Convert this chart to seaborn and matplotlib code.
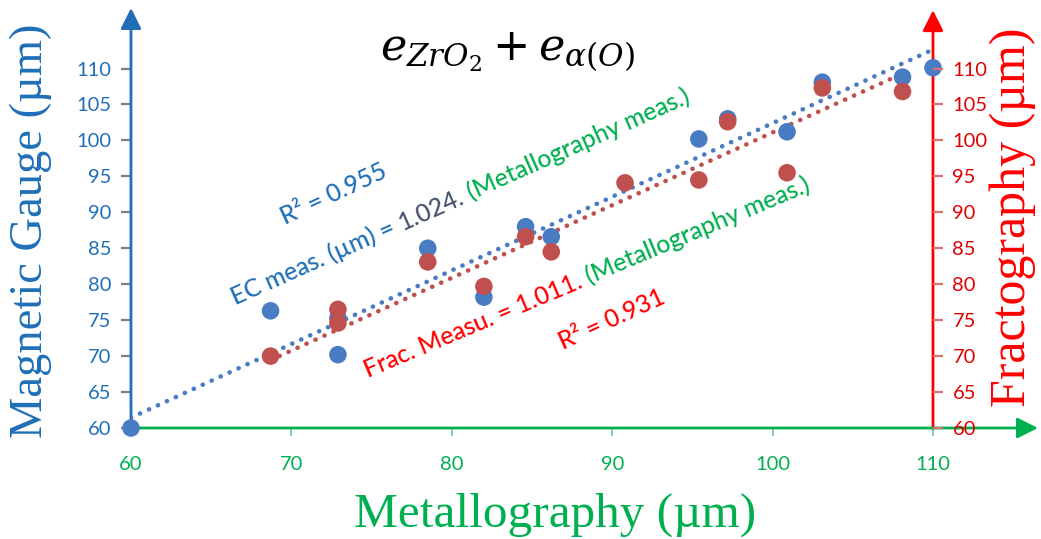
import matplotlib
matplotlib.use("Agg")
import matplotlib.pyplot as plt
import seaborn as sns
import numpy as np
import pandas as pd

# ---------------- data ----------------
metallo_ec = [60.0, 68.7, 72.9, 72.9, 78.5, 82.0, 84.6, 86.2, 95.4, 97.2, 100.9, 103.1, 108.1, 110.0]
ec_vals = [60.0, 76.3, 70.2, 75.3, 85.0, 78.2, 88.0, 86.6, 100.2, 103.0, 101.2, 108.1, 108.8, 110.1]
metallo_frac = [68.7, 72.9, 72.9, 78.5, 82.0, 84.6, 86.2, 90.8, 95.4, 97.2, 100.9, 103.1, 108.1]
frac_vals = [70.0, 76.5, 74.6, 83.1, 79.7, 86.6, 84.5, 94.1, 94.5, 102.6, 95.5, 107.3, 106.8]
slopes = [1.024, 1.011]
r2_vals = [0.955, 0.931]
y_ticks = list(range(60, 111, 5))
x_ticks = list(range(60, 111, 10))

# ---------------- style ----------------
sns.set_theme(style="white")
plt.rcParams["font.family"] = ["Lato", "DejaVu Sans"]
plt.rcParams["mathtext.fontset"] = "dejavuserif"

BLUE_PT = "#4A7CC4"
RED_PT = "#C0504D"
BLUE_AX = "#1F6FB8"
RED_AX = "#FF0000"
GREEN = "#00B050"
DARK = "#44546A"
SERIF = ["Liberation Serif", "DejaVu Serif"]

W, H = 1041, 539
fig = plt.figure(figsize=(W / 100, H / 100), dpi=100)
x0_px, x1_px = 131, 1038
y0_px, y1_px = 428, 8
ppx, ppy = 16.04, 7.19
ax = fig.add_axes([x0_px / W, (H - y0_px) / H, (x1_px - x0_px) / W, (y0_px - y1_px) / H])
xmax = 60 + (x1_px - x0_px) / ppx
ymax = 60 + (y0_px - y1_px) / ppy
ax.set_xlim(60, xmax)
ax.set_ylim(60, ymax)
ax.set_facecolor("white")

# trend lines (y = slope * x over each series' range)
ec_df = pd.DataFrame({"x": metallo_ec, "y": ec_vals})
fr_df = pd.DataFrame({"x": metallo_frac, "y": frac_vals})
for df, k, c in [(ec_df, slopes[0], BLUE_PT), (fr_df, slopes[1], RED_PT)]:
    xs = np.array([df["x"].min(), df["x"].max()])
    ln = pd.DataFrame({"x": xs, "y": k * xs})
    sns.lineplot(data=ln, x="x", y="y", ax=ax, color=c, lw=3.3,
                 linestyle=(0, (0.05, 2.1)), dash_capstyle="round", zorder=2)

sns.scatterplot(data=ec_df, x="x", y="y", ax=ax, color=BLUE_PT, s=160,
                edgecolor="none", linewidth=0, zorder=3, clip_on=False)
sns.scatterplot(data=fr_df, x="x", y="y", ax=ax, color=RED_PT, s=160,
                edgecolor="none", linewidth=0, zorder=4, clip_on=False)

# spines replaced by arrows
for s in ax.spines.values():
    s.set_visible(False)

def arrow(p0, p1, color):
    ax.annotate("", xy=p1, xytext=p0, xycoords="data", textcoords="data",
                annotation_clip=False,
                arrowprops=dict(arrowstyle="-|>,head_length=0.9,head_width=0.45",
                                color=color, lw=2, mutation_scale=14,
                                shrinkA=0, shrinkB=0), zorder=1)

arrow((60, 60), (60, ymax), BLUE_AX)
arrow((110, 60), (110, ymax - 0.3), RED_AX)
arrow((60, 60), (xmax, 60), GREEN)

# left axis ticks
ax.set_yticks(y_ticks)
ax.set_yticklabels([str(v) for v in y_ticks])
ax.tick_params(axis="y", which="both", left=True, direction="out", length=7, width=1.6,
               color="#7F7F7F", labelcolor=BLUE_AX, labelsize=14.5, pad=7)
# bottom ticks
ax.set_xticks(x_ticks)
ax.set_xticklabels([str(v) for v in x_ticks])
ax.tick_params(axis="x", which="both", bottom=True, direction="out", length=6, width=1.3,
               color="#7CC79A", labelcolor=GREEN, labelsize=14.5, pad=14)
ax.set_xlabel("Metallography (µm)", fontsize=35.5, color=GREEN, family=SERIF)
ax.xaxis.set_label_coords((555 - x0_px) / (x1_px - x0_px), -(515 - y0_px) / (y0_px - y1_px))
ax.xaxis.label.set_va("center")
ax.set_ylabel("Magnetic Gauge (µm)", fontsize=33.5, color=BLUE_AX, family=SERIF)
ax.yaxis.set_label_coords((31 - x0_px) / (x1_px - x0_px), (y0_px - 231) / (y0_px - y1_px))
ax.yaxis.label.set_va("center")

# right axis at x = 110
ax2 = ax.twinx()
ax2.set_ylim(60, ymax)
for s in ax2.spines.values():
    s.set_visible(False)
ax2.spines["right"].set_position(("data", 110))
ax2.set_yticks(y_ticks)
ax2.set_yticklabels([str(v) for v in y_ticks])
ax2.tick_params(axis="y", right=True, direction="out", length=7, width=1.6,
                color="#E07070", labelcolor="#E00000", labelsize=14.5, pad=7)
ax2.grid(False)
ax.grid(False)
ax2.set_ylabel("Fractography (µm)", fontsize=36, color=RED_AX, family=SERIF, rotation=90)
ax2.yaxis.set_label_coords((1013 - x0_px) / (x1_px - x0_px), (y0_px - 217) / (y0_px - y1_px))
ax2.yaxis.label.set_va("center")

# title formula
fig.text(508 / W, 1 - 52 / H, r"$e_{ZrO_2} + e_{\alpha(O)}$", fontsize=32,
         ha="center", va="center", color="black")

# multi-coloured rotated annotations
fig.canvas.draw()
renderer = fig.canvas.get_renderer()
TXT_SIZE = 17.8
TXT_W = "medium"

def measure(s):
    t = fig.text(0, 0, s, fontsize=TXT_SIZE, fontweight=TXT_W)
    w = t.get_window_extent(renderer).width
    t.remove()
    return w

space_w = measure("a a") - measure("aa")

def rot_text(x, y, parts, angle):
    px, py = ax.transData.transform((x, y))
    a = np.deg2rad(angle)
    for s, c in parts:
        ax.text(px, py, s, color=c, rotation=angle, rotation_mode="anchor",
                ha="left", va="baseline", transform=None, fontsize=TXT_SIZE,
                fontweight=TXT_W, zorder=5)
        w = measure(s) + space_w
        px += w * np.cos(a)
        py += w * np.sin(a)

def px2data(px, py):
    return 60 + (px - x0_px) / ppx, 60 + (y0_px - py) / ppy

rot_text(*px2data(285, 225), [(f"R² = {r2_vals[0]}", BLUE_AX)], 25)
rot_text(*px2data(235, 305), [("EC meas. (µm) =", BLUE_AX), (f"{slopes[0]:.3f}.", DARK),
                              ("(Metallography meas.)", GREEN)], 24)
rot_text(*px2data(368, 378), [(f"Frac. Measu. = {slopes[1]:.3f}.", RED_AX),
                              ("(Metallography meas.)", GREEN)], 22.8)
rot_text(*px2data(563, 350), [(f"R² = {r2_vals[1]}", RED_AX)], 24.5)

fig.savefig("out.png", dpi=100, facecolor="white")
